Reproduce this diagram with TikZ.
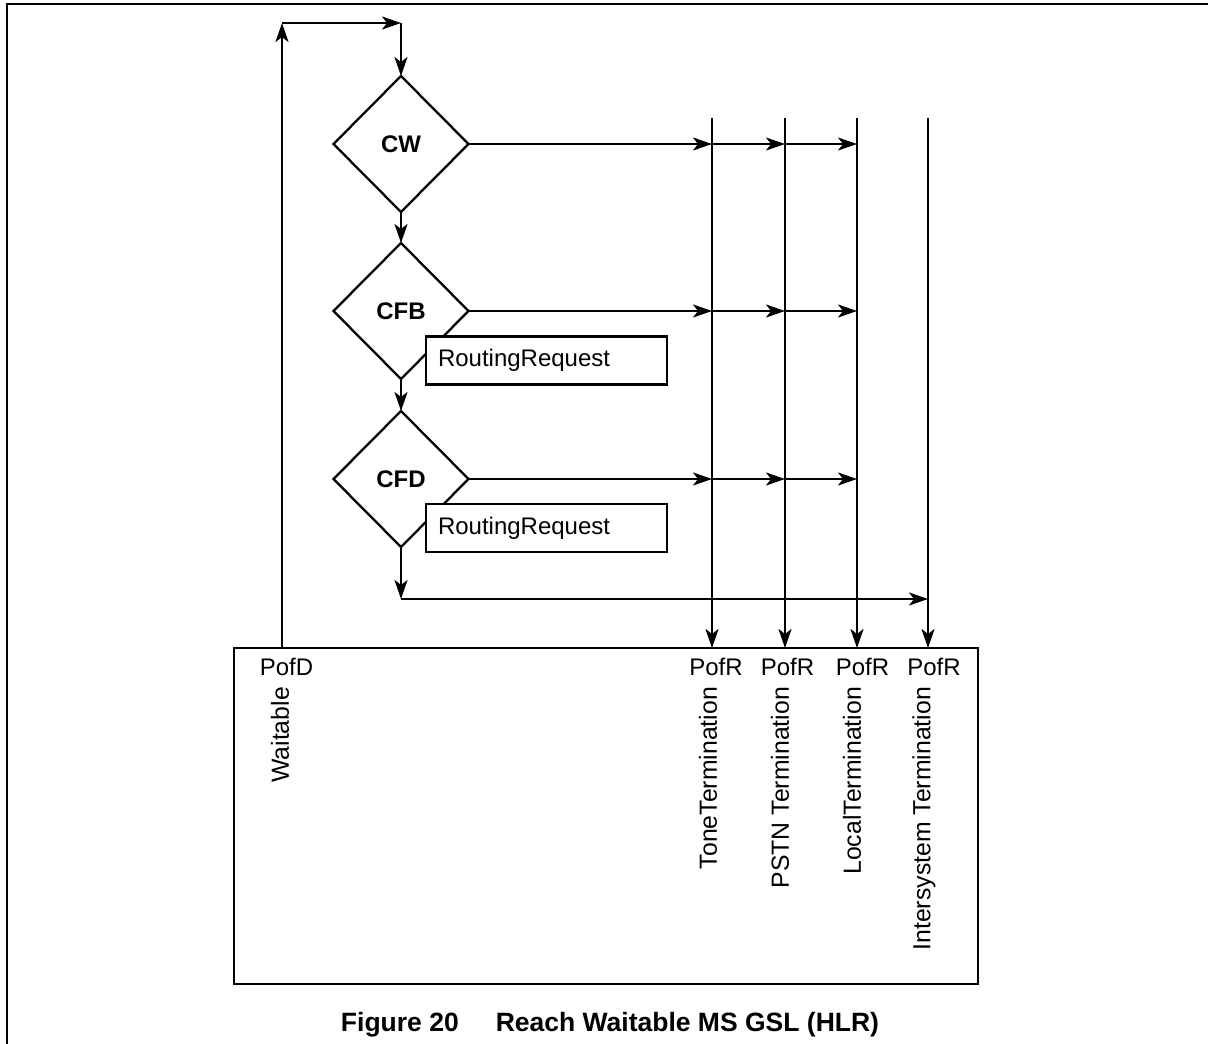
\documentclass[tikz,border=0pt]{standalone}
\usepackage{fontspec}
\setmainfont{Liberation Sans}
\usepackage{tikz}
\usetikzlibrary{arrows.meta, positioning, calc, shapes.geometric}

\begin{document}
\begin{tikzpicture}[
  x=1pt, y=-1pt,
  line width=2.3pt,
  font=\fontsize{24}{28}\selectfont,
  decision/.style={
    draw, diamond, aspect=1, inner sep=0pt, outer sep=0pt,
    minimum width=135pt, minimum height=136pt,
    font=\fontsize{24}{28}\selectfont\bfseries
  },
  msgbox/.style={
    draw, fill=white, outer sep=0pt, inner xsep=12pt, inner ysep=0pt,
    text width=217pt, minimum height=48pt, align=left, anchor=north west
  },
  arr/.style={-{Stealth[length=19pt, width=13pt, inset=5pt]}},
  portlabel/.style={anchor=north, inner sep=0pt},
  vlabel/.style={rotate=90, anchor=east, inner sep=0pt,
    font=\fontsize{24.8}{28}\selectfont}
]
  \useasboundingbox (0,0) rectangle (1208,1044);
  \draw[line width=2.6pt] (7,1044) -- (7,4) -- (1208,4);

  \node[decision] (cw) at (401,144) {CW};
  \node[decision, below=31pt of cw] (cfb) {CFB};
  \node[decision, below=32pt of cfb] (cfd) {CFD};
  \node[msgbox] (rrcfb) at ($(cfb.center)+(25,25.5)$) {RoutingRequest};
  \node[msgbox] (rrcfd) at ($(cfd.center)+(25,25)$) {RoutingRequest};

  \draw[arr] (cw) -- (cfb);
  \draw[arr] (cfb) -- (cfd);

  \node[draw, outer sep=0pt, anchor=north west, minimum width=744pt,
    minimum height=336pt] (hlr) at (234,648) {};

  % result lines into the points of return
  \coordinate (tTop) at (712,118);
  \coordinate (pTop) at (785,118);
  \coordinate (lTop) at (857,118);
  \coordinate (iTop) at (928,118);
  \draw[arr] (tTop) -- (tTop |- hlr.north);
  \draw[arr] (pTop) -- (pTop |- hlr.north);
  \draw[arr] (lTop) -- (lTop |- hlr.north);
  \draw[arr] (iTop) -- (iTop |- hlr.north);

  \draw[arr] (cw.east) -- (cw.east -| tTop);
  \draw[arr] (cw.east -| tTop) -- (cw.east -| pTop);
  \draw[arr] (cw.east -| pTop) -- (cw.east -| lTop);
  \draw[arr] (cfb.east) -- (cfb.east -| tTop);
  \draw[arr] (cfb.east -| tTop) -- (cfb.east -| pTop);
  \draw[arr] (cfb.east -| pTop) -- (cfb.east -| lTop);
  \draw[arr] (cfd.east) -- (cfd.east -| tTop);
  \draw[arr] (cfd.east -| tTop) -- (cfd.east -| pTop);
  \draw[arr] (cfd.east -| pTop) -- (cfd.east -| lTop);

  \coordinate (cfdOut) at (401,599);
  \draw[arr] (cfd.south) -- (cfdOut);
  \draw[arr] (cfdOut) -- (cfdOut -| iTop);

  % loop back from the point of decision
  \coordinate (loopL) at (282,23);
  \coordinate (loopR) at (401,23);
  \draw[arr] (hlr.north -| loopL) -- (loopL);
  \draw[arr] (loopL) -- (loopR);
  \draw[arr] (loopR) -- (cw.north);

  \node[portlabel] (pofd) at (286.5,657) {PofD};
  \node[portlabel] (pofrTone) at (716,657) {PofR};
  \node[portlabel] (pofrPstn) at (787.5,657) {PofR};
  \node[portlabel] (pofrLocal) at (862.5,657) {PofR};
  \node[portlabel] (pofrInter) at (934,657) {PofR};

  \node[vlabel] (lWait) at (280,686) {Waitable};
  \node[vlabel] (lTone) at (708,686) {ToneTermination};
  \node[vlabel] (lPstn) at (780,686) {PSTN Termination};
  \node[vlabel] (lLocal) at (852,686) {LocalTermination};
  \node[vlabel] (lInter) at (924,686) {Intersystem Termination};

  \node[font=\fontsize{26.5}{32}\selectfont\bfseries, anchor=base] (caption)
    at (610,1031) {Figure 20\hspace{37pt}Reach Waitable MS GSL (HLR)};
\end{tikzpicture}
\end{document}
